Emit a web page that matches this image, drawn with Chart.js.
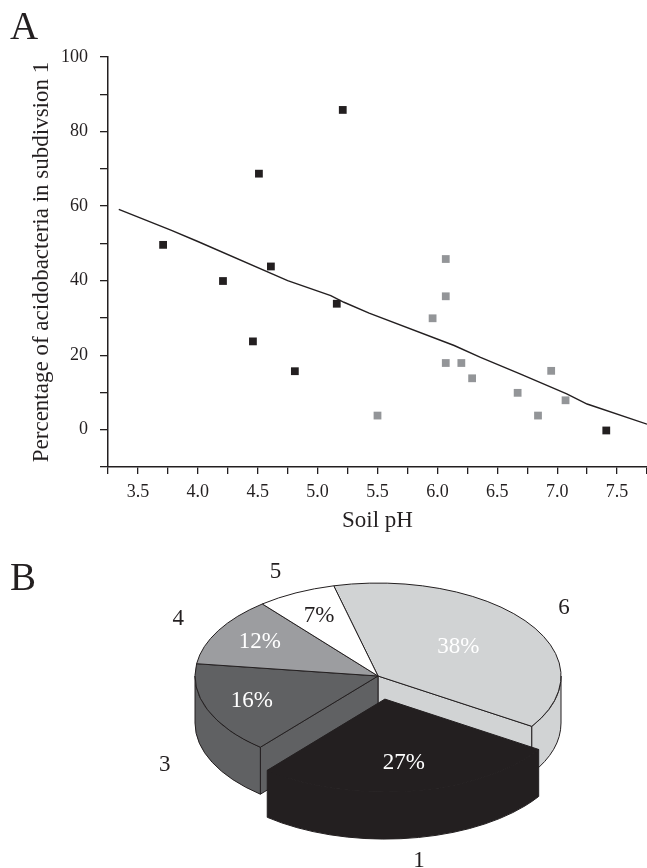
<!DOCTYPE html>
<html>
<head>
<meta charset="utf-8">
<script src="https://cdn.jsdelivr.net/npm/chart.js@4.4.1/dist/chart.umd.min.js"></script>
<style>
  html, body { margin: 0; padding: 0; background: #ffffff; }
  body { width: 647px; height: 868px; position: relative; overflow: hidden; font-family: "Liberation Serif", serif; color: #231f20; }
  #wrapA { position: absolute; left: 0; top: 0; width: 647px; height: 545px; }
  #wrapB { position: absolute; left: 0; top: 484px; width: 647px; height: 384px; }
  .panel { position: absolute; left: 10px; font-size: 39px; line-height: 1; font-family: "Liberation Serif", serif; color: #231f20; }
</style>
</head>
<body>
<div id="wrapA"><canvas id="chartA" width="647" height="545"></canvas></div>
<div id="wrapB"><canvas id="chartB" width="647" height="384"></canvas></div>
<div class="panel" style="top:6px;">A</div>
<div class="panel" style="top:557px;">B</div>
<script>
// ---------- Panel A data ----------
const acidicPH   = [3.71, 4.21, 4.46, 4.51, 4.61, 4.81, 5.16, 5.21, 7.41];
const acidicPct  = [49.6, 39.9, 23.7, 68.7, 43.8, 15.7, 33.8, 85.8, -0.2];
const neutralPH  = [5.50, 5.96, 6.07, 6.07, 6.07, 6.20, 6.29, 6.67, 6.84, 6.95, 7.07];
const neutralPct = [3.8, 29.9, 45.8, 35.8, 17.9, 17.9, 13.8, 9.9, 3.8, 15.8, 7.9];
const trendPH    = [3.34, 3.78, 4.00, 4.75, 5.11, 5.22, 5.43, 6.14, 6.36, 6.69, 7.08, 7.25, 7.75];
const trendPct   = [59.1, 53.5, 50.5, 40.0, 36.0, 34.2, 31.3, 22.6, 19.4, 15.0, 9.6, 6.9, 1.5];
const xTitle = 'Soil pH';
const yTitle = 'Percentage of acidobacteria in subdivsion 1';

// ---------- Panel B data ----------
const pieLabels = ['6', '1', '3', '4', '5'];
const pieValues = [38, 27, 16, 12, 7];

// ---------- styles ----------
const INK = '#231f20';
const GRAY_PT = '#939598';
const pieColors = ['#d1d3d4', '#231f20', '#606163', '#9c9da0', '#ffffff'];
const pctColors = ['#ffffff', '#ffffff', '#ffffff', '#ffffff', '#231f20'];
const pctRadius = [0.54, 0.69, 0.74, 0.74, 0.72];
const explode   = [0, 46, 0, 0, 0];

const toXY = (xs, ys) => xs.map((x, i) => ({ x: x, y: ys[i] }));

Chart.defaults.font.family = '"Liberation Serif", serif';
Chart.defaults.color = INK;

new Chart(document.getElementById('chartA'), {
  type: 'scatter',
  data: {
    datasets: [
      { type: 'line', data: toXY(trendPH, trendPct), borderColor: INK, borderWidth: 1.4,
        pointRadius: 0, fill: false, tension: 0, order: 3 },
      { data: toXY(acidicPH, acidicPct), pointStyle: 'rect', pointRadius: 5.5,
        backgroundColor: INK, borderColor: INK, borderWidth: 0, order: 1 },
      { data: toXY(neutralPH, neutralPct), pointStyle: 'rect', pointRadius: 5.5,
        backgroundColor: GRAY_PT, borderColor: GRAY_PT, borderWidth: 0, order: 2 }
    ]
  },
  options: {
    responsive: false,
    animation: false,
    events: [],
    layout: { autoPadding: false, padding: { top: 57, right: 0, left: 0, bottom: 0 } },
    plugins: { legend: { display: false }, tooltip: { enabled: false } },
    scales: {
      x: {
        type: 'linear', min: 3.25, max: 7.75,
        border: { display: true, color: INK, width: 1.5 },
        grid: { display: true, drawOnChartArea: false, drawTicks: true, tickLength: 7, color: INK, lineWidth: 1.3 },
        ticks: {
          stepSize: 0.25, autoSkip: false, maxRotation: 0, padding: 7,
          font: { size: 18 }, color: INK,
          callback: (v) => Math.abs(v * 2 - Math.round(v * 2)) < 1e-6 ? Number(v).toFixed(1) : ''
        },
        title: { display: true, text: xTitle, font: { size: 23 }, color: INK, padding: { top: 0, bottom: 10 } },
        afterFit: (s) => { s.height = 78; s.paddingLeft = 0; s.paddingRight = 0; }
      },
      y: {
        type: 'linear', min: -10, max: 100,
        border: { display: true, color: INK, width: 1.5 },
        grid: { display: true, drawOnChartArea: false, drawTicks: true, tickLength: 8, color: INK, lineWidth: 1.3 },
        ticks: {
          stepSize: 10, autoSkip: false, padding: 12,
          font: { size: 18 }, color: INK,
          callback: (v) => (v >= 0 && v % 20 === 0) ? String(v) : ''
        },
        title: { display: true, text: yTitle, font: { size: 23 }, color: INK, padding: { top: 28, bottom: 0 } },
        afterFit: (s) => { s.width = 108; s.paddingTop = 0; s.paddingBottom = 0; }
      }
    }
  }
});

// ---------- 3D pie plugin (uses arc geometry computed by Chart.js) ----------
const pie3d = {
  id: 'pie3d',
  beforeDatasetsDraw(chart, args, opts) {
    const ctx = chart.ctx;
    const arcs = chart.getDatasetMeta(0).data;
    const ds = chart.data.datasets[0];
    const ky = opts.tilt, D = opts.depth;
    const TAU = Math.PI * 2;
    const S = arcs.map((a, i) => {
      const p = a.getProps(['x', 'y', 'startAngle', 'endAngle', 'outerRadius'], true);
      const mid = (p.startAngle + p.endAngle) / 2;
      const e = opts.explode[i] || 0;
      return { i, a0: p.startAngle, a1: p.endAngle, mid, R: p.outerRadius,
        cx: p.x + e * Math.cos(mid), cy: p.y + ky * e * Math.sin(mid), e,
        color: ds.backgroundColor[i] };
    });
    const pt = (s, th, r, h) => [s.cx + s.R * r * Math.cos(th), s.cy + ky * s.R * r * Math.sin(th) + h];
    ctx.save();
    ctx.lineWidth = 1;
    ctx.strokeStyle = opts.stroke;
    ctx.lineJoin = 'round';
    const fillStroke = (color) => { ctx.fillStyle = color; ctx.fill(); ctx.stroke(); };
    const wall = (s, th) => {
      const c0 = pt(s, th, 0, 0), r0 = pt(s, th, 1, 0), r1 = pt(s, th, 1, D), c1 = pt(s, th, 0, D);
      ctx.beginPath(); ctx.moveTo(c0[0], c0[1]); ctx.lineTo(r0[0], r0[1]); ctx.lineTo(r1[0], r1[1]);
      ctx.lineTo(c1[0], c1[1]); ctx.closePath(); fillStroke(s.color);
    };
    const outer = (s) => {
      for (let k = -1; k <= 2; k++) {
        const lo = Math.max(s.a0, k * TAU), hi = Math.min(s.a1, k * TAU + Math.PI);
        if (hi - lo > 1e-4) {
          ctx.beginPath();
          ctx.ellipse(s.cx, s.cy, s.R, s.R * ky, 0, lo, hi, false);
          ctx.ellipse(s.cx, s.cy + D, s.R, s.R * ky, 0, hi, lo, true);
          ctx.closePath(); fillStroke(s.color);
        }
      }
    };
    const top = (s) => {
      ctx.beginPath(); ctx.moveTo(s.cx, s.cy);
      ctx.ellipse(s.cx, s.cy, s.R, s.R * ky, 0, s.a0, s.a1, false);
      ctx.closePath(); fillStroke(s.color);
    };
    const n = S.length;
    const walls = (s, onlyNearExploded) => {
      const prev = S[(s.i - 1 + n) % n], next = S[(s.i + 1) % n];
      if (Math.cos(s.a0) < 0 && (!onlyNearExploded || prev.e > 0)) wall(s, s.a0);
      if (Math.cos(s.a1) > 0 && (!onlyNearExploded || next.e > 0)) wall(s, s.a1);
    };
    const base = S.filter(s => s.e === 0), expl = S.filter(s => s.e > 0);
    base.forEach(s => walls(s, true));
    base.forEach(s => outer(s));
    base.forEach(s => top(s));
    expl.forEach(s => { walls(s, false); outer(s); top(s); });
    // labels
    ctx.textAlign = 'center';
    ctx.textBaseline = 'middle';
    ctx.font = opts.fontSize + 'px "Liberation Serif", serif';
    S.forEach(s => {
      const pp = pt(s, s.mid, opts.pctRadius[s.i], 0);
      ctx.fillStyle = opts.pctColors[s.i];
      ctx.fillText(ds.data[s.i] + '%', pp[0], pp[1]);
      const front = Math.sin(s.mid) > 0 ? D : 0;
      const lp = pt(s, s.mid, 1.25, front);
      ctx.fillStyle = opts.stroke;
      ctx.fillText(chart.data.labels[s.i], lp[0], lp[1]);
    });
    ctx.restore();
    return false;
  }
};

new Chart(document.getElementById('chartB'), {
  type: 'pie',
  data: {
    labels: pieLabels,
    datasets: [{ data: pieValues, backgroundColor: pieColors, borderColor: INK, borderWidth: 1 }]
  },
  options: {
    responsive: false,
    animation: false,
    events: [],
    radius: 183,
    rotation: 346,
    layout: { padding: { left: 109, right: 0, top: 0, bottom: 0 } },
    plugins: {
      legend: { display: false }, tooltip: { enabled: false },
      pie3d: { tilt: 0.508, depth: 47, explode: explode, stroke: INK,
               pctColors: pctColors, pctRadius: pctRadius, fontSize: 23 }
    }
  },
  plugins: [pie3d]
});
</script>
</body>
</html>
